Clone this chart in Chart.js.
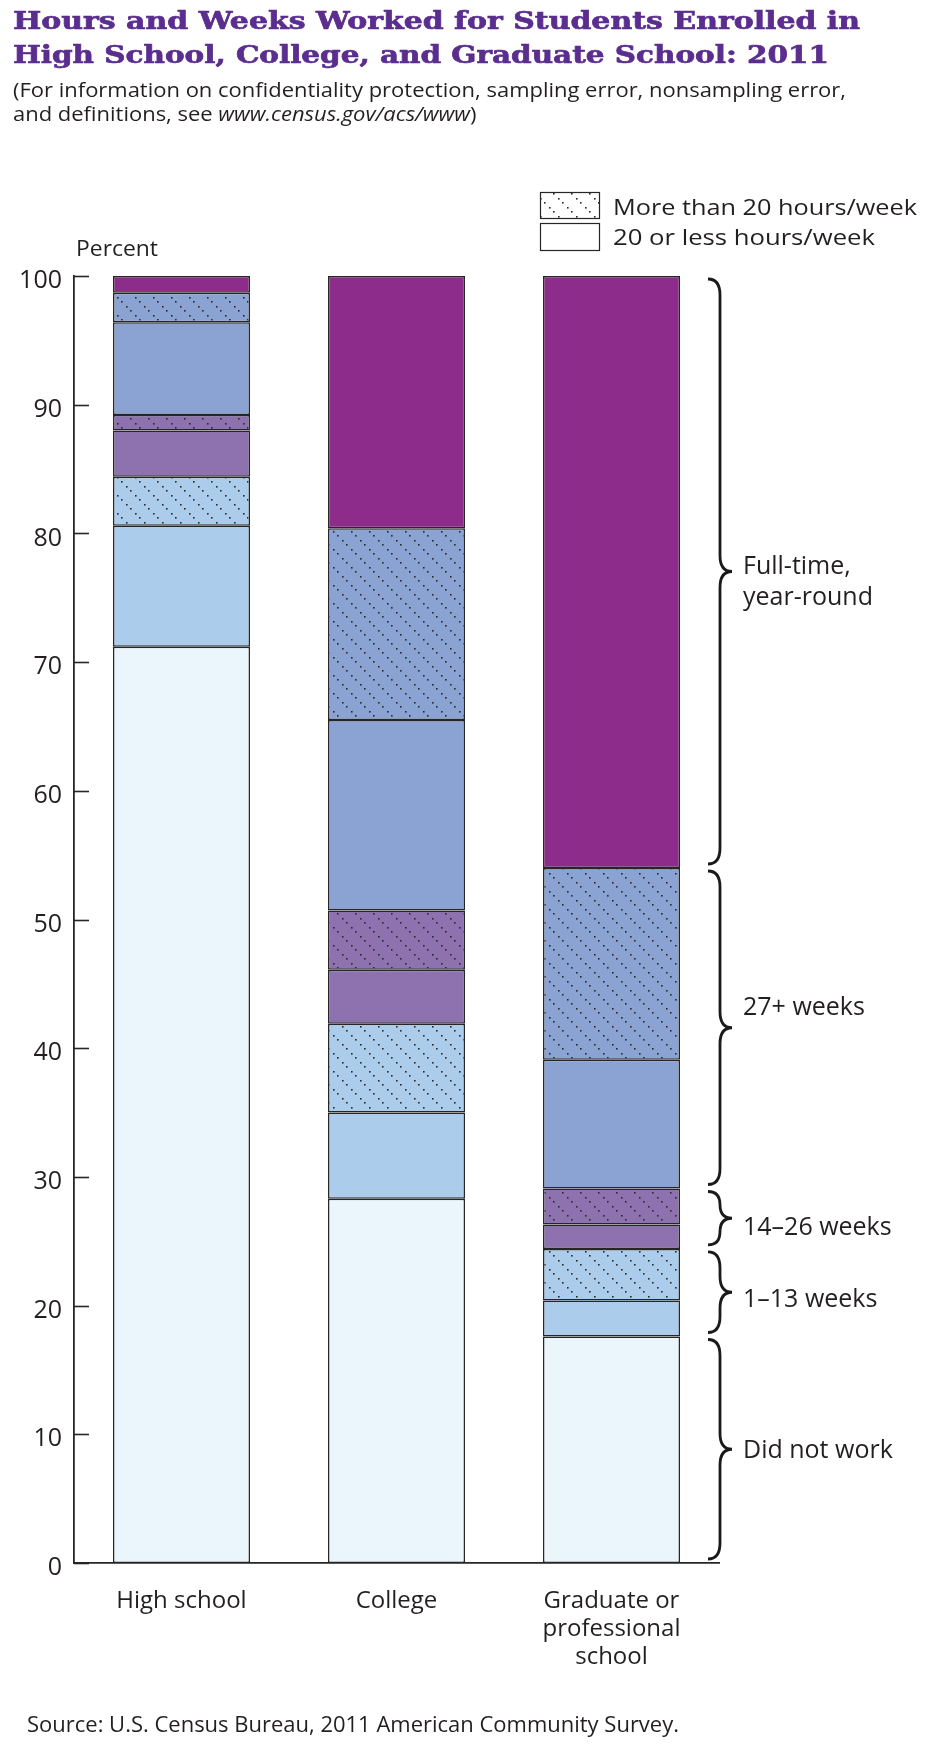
<!DOCTYPE html>
<html>
<head>
<meta charset="utf-8">
<script src="https://cdn.jsdelivr.net/npm/chart.js@4.4.1/dist/chart.umd.min.js"></script>
<style>
  body { margin: 0; background: #fff; }
  #wrap { position: relative; width: 934px; height: 1744px; overflow: hidden; }
  #chart { position: absolute; left: 0; top: 0; }
  .line { position: absolute; white-space: nowrap; transform-origin: 0 0; color: #231f20; }
  .title { left: 13px; font: bold 25px/30px "DejaVu Serif"; color: #5a2d8e; -webkit-text-stroke: 0.7px #5a2d8e; }
  .sub { left: 13px; font: 20px/28px "Open Sans"; }
  .src { left: 27px; font: 21px/29px "Open Sans"; }
</style>
</head>
<body>
<div id="wrap">
  <canvas id="chart" width="934" height="1744"></canvas>
  <div class="line title" id="t1" style="top:6px">Hours and Weeks Worked for Students Enrolled in</div>
  <div class="line title" id="t2" style="top:40px">High School, College, and Graduate School: 2011</div>
  <div class="line sub" id="s1" style="top:76px">(For information on confidentiality protection, sampling error, nonsampling error,</div>
  <div class="line sub" id="s2" style="top:100px">and definitions, see <i>www.census.gov/acs/www</i>)</div>
  <div class="line src" id="src" style="top:1710px">Source: U.S. Census Bureau, 2011 American Community Survey.</div>
</div>
<script>
// values (percent of students)
const categories = [["High school"], ["College"], ["Graduate or", "professional", "school"]];
const didNotWork   = [71.2, 28.3, 17.6];
const wk1to13Low   = [9.4, 6.7, 2.8];
const wk1to13High  = [3.8, 6.9, 4.0];
const wk14to26Low  = [3.6, 4.2, 1.9];
const wk14to26High = [1.2, 4.6, 2.8];
const wk27Low      = [7.2, 14.8, 10.0];
const wk27High     = [2.3, 14.9, 14.9];
const fullTime     = [1.3, 19.6, 46.0];
const yTicks = [0, 10, 20, 30, 40, 50, 60, 70, 80, 90, 100];
const legendLabels = ["More than 20 hours/week", "20 or less hours/week"];
const groupLabels = [["Did not work"], ["1–13 weeks"], ["14–26 weeks"], ["27+ weeks"], ["Full-time,", "year-round"]];
const groupSeries = [[0], [1, 2], [3, 4], [5, 6], [7]];

const INK = "#231f20";
const LINE = "#262626";

// dotted diagonal hatch
function hatch(base) {
  const c = document.createElement("canvas");
  c.width = 18; c.height = 18;
  const g = c.getContext("2d");
  g.fillStyle = base;
  g.fillRect(0, 0, 18, 18);
  g.fillStyle = "#2a2a2a";
  [0, 4, 9, 13].forEach(p => g.fillRect(p, p, 1.6, 1.6));
  return g.createPattern(c, "repeat");
}

const lightBlue = "#abcceb", lavender = "#8e72b0", periwinkle = "#8ba3d2";

function ds(label, data, bg) {
  return { label, data, backgroundColor: bg, borderColor: LINE, borderWidth: 1.5, borderSkipped: false };
}

const datasets = [
  ds("Did not work", didNotWork, "#eaf6fc"),
  ds("1–13 weeks, 20 or less", wk1to13Low, lightBlue),
  ds("1–13 weeks, more than 20", wk1to13High, hatch(lightBlue)),
  ds("14–26 weeks, 20 or less", wk14to26Low, lavender),
  ds("14–26 weeks, more than 20", wk14to26High, hatch(lavender)),
  ds("27+ weeks, 20 or less", wk27Low, periwinkle),
  ds("27+ weeks, more than 20", wk27High, hatch(periwinkle)),
  ds("Full-time, year-round", fullTime, "#8e2c8c")
];

function fillFit(ctx, text, x, y, w) {
  const m = ctx.measureText(text).width;
  ctx.save();
  ctx.translate(x, y);
  ctx.scale(w / m, 1);
  ctx.fillText(text, 0, 0);
  ctx.restore();
}

function brace(ctx, xs, y1, y2) {
  const ym = (y1 + y2) / 2;
  const r = Math.min(16, (y2 - y1) / 4);
  ctx.beginPath();
  ctx.moveTo(xs - 12, y1);
  ctx.quadraticCurveTo(xs, y1, xs, y1 + r);
  ctx.lineTo(xs, ym - r);
  ctx.quadraticCurveTo(xs, ym, xs + 12, ym);
  ctx.quadraticCurveTo(xs, ym, xs, ym + r);
  ctx.lineTo(xs, y2 - r);
  ctx.quadraticCurveTo(xs, y2, xs - 12, y2);
  ctx.stroke();
}

const labelDy = [9, 15, 17, -13, 2];

const extras = {
  id: "extras",
  afterDraw(chart) {
    const ctx = chart.ctx;
    const area = chart.chartArea;
    const y = chart.scales.y;
    ctx.save();

    // inward tick marks
    ctx.strokeStyle = LINE;
    ctx.lineWidth = 1.6;
    yTicks.forEach(v => {
      const py = Math.round(y.getPixelForValue(v)) + 0.5;
      ctx.beginPath();
      ctx.moveTo(area.left, py);
      ctx.lineTo(area.left + 15, py);
      ctx.stroke();
    });

    // axis title
    ctx.fillStyle = INK;
    ctx.font = '22px "Open Sans"';
    ctx.textBaseline = "alphabetic";
    fillFit(ctx, "Percent", 76, 256, 82);

    // legend
    ctx.lineWidth = 1.2;
    ctx.fillStyle = hatch("#ffffff");
    ctx.fillRect(540, 192, 59, 26);
    ctx.strokeRect(540.5, 192.5, 59, 26);
    ctx.fillStyle = "#ffffff";
    ctx.fillRect(540, 223, 59, 27);
    ctx.strokeRect(540.5, 223.5, 59, 27);
    ctx.fillStyle = INK;
    fillFit(ctx, legendLabels[0], 613, 214.5, 304);
    fillFit(ctx, legendLabels[1], 613, 245, 262);

    // braces on the graduate bar
    const last = categories.length - 1;
    let base = 0;
    ctx.lineWidth = 2.8;
    ctx.strokeStyle = "#1a1a1a";
    ctx.font = '25px "Open Sans"';
    groupSeries.forEach((idx, g) => {
      const sum = idx.reduce((s, i) => s + datasets[i].data[last], 0);
      const top = y.getPixelForValue(base + sum) + 3;
      const bot = y.getPixelForValue(base) - 4;
      base += sum;
      brace(ctx, area.right + 1, top, bot);
      const tip = (top + bot) / 2;
      groupLabels[g].forEach((t, k) => {
        ctx.fillText(t, area.right + 24, tip + labelDy[g] + k * 31);
      });
    });
    ctx.restore();
  }
};

new Chart(document.getElementById("chart"), {
  type: "bar",
  data: { labels: categories, datasets: datasets },
  options: {
    responsive: false,
    animation: false,
    layout: { padding: { top: 276, right: 215, bottom: 0, left: 0 } },
    plugins: { legend: { display: false }, tooltip: { enabled: false } },
    datasets: { bar: { barPercentage: 137 / 215, categoryPercentage: 1 } },
    scales: {
      x: {
        stacked: true,
        grid: { display: false, drawTicks: false },
        border: { display: true, color: LINE, width: 1.8 },
        ticks: { color: INK, padding: 24, font: { family: "Open Sans", size: 24, lineHeight: 28 / 24 } },
        afterFit: s => { s.height = 181; }
      },
      y: {
        stacked: true,
        min: 0,
        max: 100,
        grid: { display: false, drawTicks: false },
        border: { display: true, color: LINE, width: 1.8 },
        afterBuildTicks: s => { s.ticks = yTicks.map(v => ({ value: v })); },
        ticks: { color: INK, padding: 12, labelOffset: 5, font: { family: "Open Sans", size: 25 } },
        afterFit: s => { s.width = 74; }
      }
    }
  },
  plugins: [extras]
});

// stretch the html text lines to the widths they take in the original
function fit(id, w) {
  const el = document.getElementById(id);
  const k = w / el.getBoundingClientRect().width;
  el.style.transform = "scaleX(" + k + ")";
  return k;
}
fit("t1", 847);
fit("t2", 816);
const ks = fit("s1", 833);
document.getElementById("s2").style.transform = "scaleX(" + ks + ")";
fit("src", 652);
</script>
</body>
</html>
